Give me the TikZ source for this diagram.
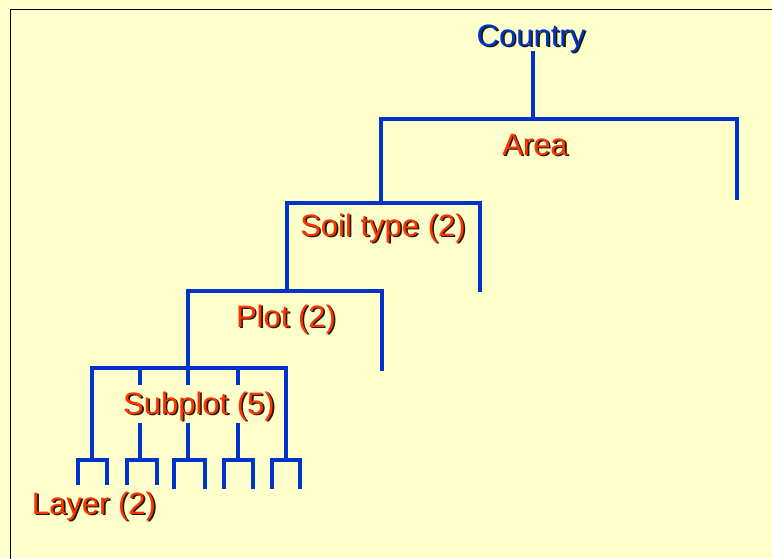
\documentclass[tikz,border=0pt]{standalone}
\usepackage{fontspec}
\setmainfont{Liberation Sans}
\definecolor{bgyellow}{HTML}{FFFFCC}
\definecolor{treeblue}{HTML}{0033CC}
\definecolor{labred}{HTML}{FF3300}
\definecolor{shadowc}{HTML}{1A1A00}
\tikzset{
  treeline/.style={draw=treeblue, line width=4pt, line cap=rect, line join=miter},
  lab/.style={anchor=base, inner sep=0pt, font=\fontsize{31}{36}\selectfont},
}
\newcommand\shadowtext[2]{%
  \makebox[0pt][l]{\hspace{1.6pt}\raisebox{-1.6pt}{\textcolor{shadowc}{#2}}}\textcolor{#1}{#2}}
\begin{document}
\begin{tikzpicture}[x=1pt,y=-1pt]
\useasboundingbox (0,0) rectangle (772,558);
\clip (0,0) rectangle (772,558);
\fill[bgyellow] (0,0) rectangle (772,558);
\draw[black, line width=1pt] (10,9) rectangle (800,600);

% coordinates of the tree
\coordinate (ctop) at (533,53);
\coordinate (aL) at (381,119);
\coordinate (aM) at (533,119);
\coordinate (aR) at (737,119);
\coordinate (aRe) at (737,198);
\coordinate (sL) at (287,203);
\coordinate (sM) at (381,203);
\coordinate (sR) at (480,203);
\coordinate (sRe) at (480,290);
\coordinate (pL) at (188,291);
\coordinate (pM) at (287,291);
\coordinate (pR) at (382,291);
\coordinate (pRe) at (382,369);
\coordinate (uL) at (92,368);
\coordinate (uM) at (188,368);
\coordinate (uR) at (286,368);
\coordinate (u2) at (140,368);
\coordinate (u4) at (238,368);
\coordinate (u2a) at (140,383);
\coordinate (u3a) at (188,383);
\coordinate (u4a) at (238,383);
\coordinate (u2b) at (140,425);
\coordinate (u3b) at (188,425);
\coordinate (u4b) at (238,425);

% Layer brackets
\coordinate (l1L) at (78,460);  \coordinate (l1M) at (92,460);  \coordinate (l1R) at (107,460);
\coordinate (l2L) at (127,460); \coordinate (l2M) at (140,460); \coordinate (l2R) at (157,460);
\coordinate (l3L) at (174,460); \coordinate (l3M) at (188,460); \coordinate (l3R) at (205,460);
\coordinate (l4L) at (224,460); \coordinate (l4M) at (238,460); \coordinate (l4R) at (253,460);
\coordinate (l5L) at (272,460); \coordinate (l5M) at (286,460); \coordinate (l5R) at (300,460);
\coordinate (l1Le) at (78,483);  \coordinate (l1Re) at (107,483);
\coordinate (l2Le) at (127,483); \coordinate (l2Re) at (157,483);
\coordinate (l3Le) at (174,487); \coordinate (l3Re) at (205,487);
\coordinate (l4Le) at (224,487); \coordinate (l4Re) at (253,487);
\coordinate (l5Le) at (272,487); \coordinate (l5Re) at (300,487);

% Country -> Area
\draw[treeline] (ctop) -- (aM);
\draw[treeline] (sM) -- (aL) -- (aR) -- (aRe);
% Area -> Soil type
\draw[treeline] (pM) -- (sL) -- (sR) -- (sRe);
% Soil -> Plot
\draw[treeline] (uM) -- (pL) -- (pR) -- (pRe);
% Plot -> Subplot
\draw[treeline] (l1M) -- (uL) -- (uR) -- (l5M);
\draw[treeline] (u2) -- (u2a);
\draw[treeline] (uM) -- (u3a);
\draw[treeline] (u4) -- (u4a);
\draw[treeline] (u2b) -- (l2M);
\draw[treeline] (u3b) -- (l3M);
\draw[treeline] (u4b) -- (l4M);
% Layer brackets
\draw[treeline] (l1Le) -- (l1L) -- (l1R) -- (l1Re);
\draw[treeline] (l2Le) -- (l2L) -- (l2R) -- (l2Re);
\draw[treeline] (l3Le) -- (l3L) -- (l3R) -- (l3Re);
\draw[treeline] (l4Le) -- (l4L) -- (l4R) -- (l4Re);
\draw[treeline] (l5Le) -- (l5L) -- (l5R) -- (l5Re);

% labels
\node[lab] (country) at (531,46) {\shadowtext{treeblue}{Country}};
\node[lab] (area) at (535,155) {\shadowtext{labred}{Area}};
\node[lab] (soil) at (383,236) {\shadowtext{labred}{Soil type (2)}};
\node[lab] (plot) at (286,327) {\shadowtext{labred}{Plot (2)}};
\node[lab] (subplot) at (199,414) {\shadowtext{labred}{Subplot (5)}};
\node[lab] (layer) at (94,514) {\shadowtext{labred}{Layer (2)}};
\end{tikzpicture}
\end{document}
